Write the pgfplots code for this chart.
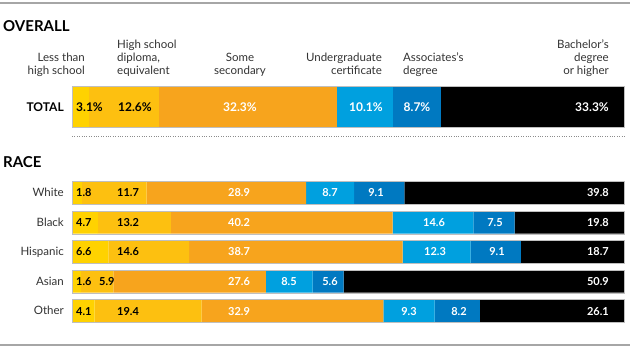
\documentclass[border=0pt]{standalone}
\usepackage{pgfplots}
\usepackage{pgfplotstable}
\pgfplotsset{compat=1.18}
\usepackage{fontspec}
\setmainfont{Lato}
\definecolor{cyA}{HTML}{FFD200}
\definecolor{cyB}{HTML}{FDC010}
\definecolor{cor}{HTML}{F7A41D}
\definecolor{cbA}{HTML}{00A0DF}
\definecolor{cbB}{HTML}{0079C1}
\definecolor{txtg}{HTML}{333333}
\pgfplotstableread{
y lt hs ss uc ad ba
193   1.8 11.7 28.9 8.7  9.1 39.8
222.5 4.7 13.2 40.2 14.6 7.5 19.8
252   6.6 14.6 38.7 12.3 9.1 18.7
281.5 1.6 5.9  27.6 8.5  5.6 50.9
311   4.1 19.4 32.9 9.3  8.2 26.1
}\race
\begin{document}
\begin{tikzpicture}
\path[use as bounding box] (0,0) rectangle (630pt,354pt);
\pgfplotsset{myax/.style={at={(72pt,0pt)}, anchor=south west, scale only axis,
  width=552pt, height=354pt, xmin=0, xmax=100, ymin=0, ymax=354, y dir=reverse,
  hide axis, xbar stacked, clip=false,
  every axis plot/.append style={draw=none}}}
\begin{axis}[myax, bar width=41.5pt]
\addplot[fill=cyA] coordinates {(3.1,106.8)};
\addplot[fill=cyB] coordinates {(12.6,106.8)};
\addplot[fill=cor] coordinates {(32.3,106.8)};
\addplot[fill=cbA] coordinates {(10.1,106.8)};
\addplot[fill=cbB] coordinates {(8.7,106.8)};
\addplot[fill=black] coordinates {(33.2,106.8)};
\end{axis}
\begin{axis}[myax, bar width=22.3pt]
\addplot[fill=cyA] table[x=lt,y=y]{\race};
\addplot[fill=cyB] table[x=hs,y=y]{\race};
\addplot[fill=cor] table[x=ss,y=y]{\race};
\addplot[fill=cbA] table[x=uc,y=y]{\race};
\addplot[fill=cbB] table[x=ad,y=y]{\race};
\addplot[fill=black] table[x=ba,y=y]{\race};
\end{axis}
\begin{scope}[x=1pt, y=-1pt, shift={(0pt,354pt)}]
% rules
\draw[line width=1.4pt, black!35] (0,3) -- (630,3);
\draw[line width=1.4pt, black!35] (0,345) -- (630,345);
\draw[line width=0.8pt, black!45, dash pattern=on 0.8pt off 1.6pt] (72,136) -- (625,136);
% bar outlines
\foreach \c/\h in {106.8/20.9, 193/11.3, 222.5/11.3, 252/11.3, 281.5/11.3, 311/11.3}
  \draw[black!25, line width=0.5pt] (71.8,\c-\h) rectangle (624.3,\c+\h);
% section titles
\node[anchor=base west, inner sep=0, font=\fontsize{15}{18}\selectfont\bfseries] at (3,32) {OVERALL};
\node[anchor=base west, inner sep=0, font=\fontsize{15}{18}\selectfont\bfseries] at (3,168) {RACE};
% column headers
\tikzset{hd/.style={inner sep=0, text=txtg, font=\fontsize{11.5}{13.5}\selectfont}}
\node[hd, anchor=base east] at (85,62) {Less than};
\node[hd, anchor=base east] at (85,75) {high school};
\node[hd, anchor=base west] at (117,49) {High school};
\node[hd, anchor=base west] at (117,62) {diploma,};
\node[hd, anchor=base west] at (117,75) {equivalent};
\node[hd, anchor=base] at (240,62) {Some};
\node[hd, anchor=base] at (240,75) {secondary};
\node[hd, anchor=base east] at (382,62) {Undergraduate};
\node[hd, anchor=base east] at (382,75) {certificate};
\node[hd, anchor=base west] at (403,62) {Associates’s};
\node[hd, anchor=base west] at (403,75) {degree};
\node[hd, anchor=base east] at (609,49) {Bachelor’s};
\node[hd, anchor=base east] at (609,62) {degree};
\node[hd, anchor=base east] at (609,75) {or higher};
% row names
\node[anchor=base east, inner sep=0, font=\fontsize{12}{14}\selectfont\bfseries] at (64,111.5) {TOTAL};
\tikzset{rn/.style={anchor=base east, inner sep=0, text=txtg, font=\fontsize{11.5}{13.5}\selectfont}}
\node[rn] at (64,196.5) {White};
\node[rn] at (64,226) {Black};
\node[rn] at (64,255.5) {Hispanic};
\node[rn] at (64,285) {Asian};
\node[rn] at (64,314.5) {Other};
% value labels
\tikzset{vl/.style={inner sep=0, font=\fontsize{11}{13}\selectfont\bfseries},
  vt/.style={inner sep=0, font=\fontsize{12}{14}\selectfont\bfseries}}
\node[vt, anchor=base west] at (76,111.5) {3.1\%};
\node[vt, anchor=base west] at (118,111.5) {12.6\%};
\node[vt, anchor=base, text=white] at (240,111.5) {32.3\%};
\node[vt, anchor=base, text=white] at (366,111.5) {10.1\%};
\node[vt, anchor=base, text=white] at (417,111.5) {8.7\%};
\node[vt, anchor=base east, text=white] at (609,111.5) {33.3\%};
% White
\node[vl, anchor=base west] at (76,197) {1.8};
\node[vl, anchor=base west] at (117,197) {11.7};
\node[vl, anchor=base, text=white] at (239,197) {28.9};
\node[vl, anchor=base, text=white] at (330,197) {8.7};
\node[vl, anchor=base, text=white] at (376,197) {9.1};
\node[vl, anchor=base east, text=white] at (609,197) {39.8};
% Black
\node[vl, anchor=base west] at (76,226.5) {4.7};
\node[vl, anchor=base west] at (117,226.5) {13.2};
\node[vl, anchor=base, text=white] at (239,226.5) {40.2};
\node[vl, anchor=base, text=white] at (434,226.5) {14.6};
\node[vl, anchor=base, text=white] at (495,226.5) {7.5};
\node[vl, anchor=base east, text=white] at (609,226.5) {19.8};
% Hispanic
\node[vl, anchor=base west] at (76,256) {6.6};
\node[vl, anchor=base west] at (117,256) {14.6};
\node[vl, anchor=base, text=white] at (239,256) {38.7};
\node[vl, anchor=base, text=white] at (435,256) {12.3};
\node[vl, anchor=base, text=white] at (497,256) {9.1};
\node[vl, anchor=base east, text=white] at (609,256) {18.7};
% Asian
\node[vl, anchor=base west] at (76,285.5) {1.6};
\node[vl, anchor=base west] at (99,285.5) {5.9};
\node[vl, anchor=base, text=white] at (239,285.5) {27.6};
\node[vl, anchor=base, text=white] at (289,285.5) {8.5};
\node[vl, anchor=base, text=white] at (330,285.5) {5.6};
\node[vl, anchor=base east, text=white] at (609,285.5) {50.9};
% Other
\node[vl, anchor=base west] at (76,315) {4.1};
\node[vl, anchor=base west] at (117,315) {19.4};
\node[vl, anchor=base, text=white] at (239,315) {32.9};
\node[vl, anchor=base, text=white] at (409,315) {9.3};
\node[vl, anchor=base, text=white] at (459,315) {8.2};
\node[vl, anchor=base east, text=white] at (609,315) {26.1};
\end{scope}
\end{tikzpicture}
\end{document}
